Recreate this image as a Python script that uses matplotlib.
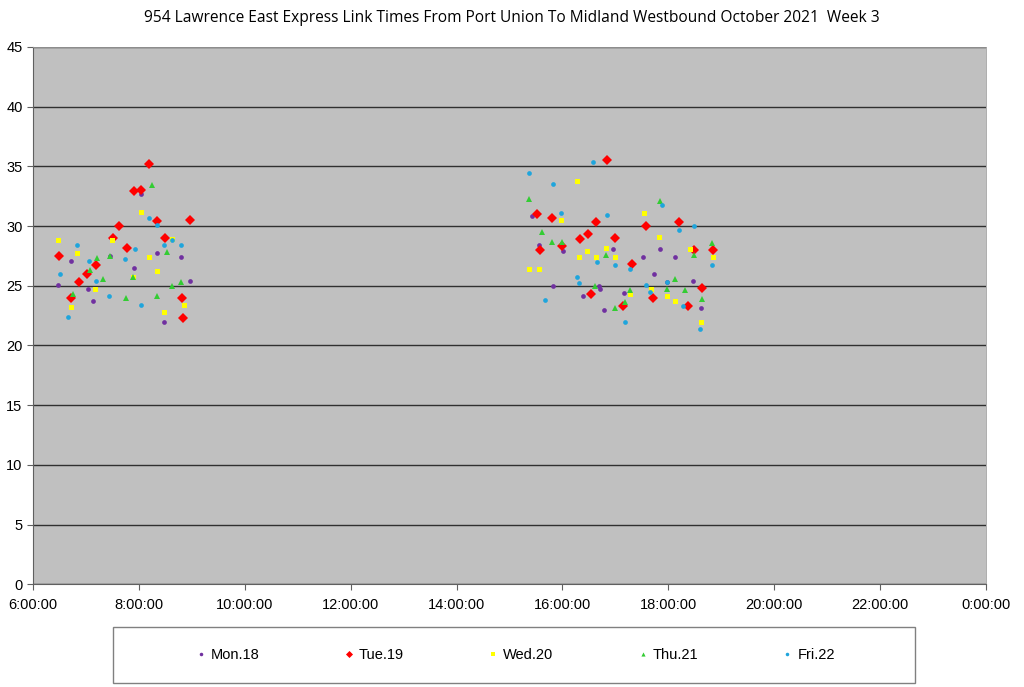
import matplotlib.pyplot as plt
from matplotlib.patches import Rectangle
from matplotlib.ticker import MultipleLocator, FuncFormatter

# link times (minutes) by time of day
mon_t = ["8:02", "8:20", "8:48", "6:43", "7:54", "8:58", "6:28", "7:02", "7:08", "8:28", "7:27",
         "15:25", "15:34", "16:01", "16:57", "15:49", "16:23", "16:43", "16:41", "16:47", "17:10",
         "17:50", "17:31", "18:08", "17:44", "18:28", "17:59", "18:37"]
mon_v = [32.7, 27.7, 27.4, 27.1, 26.5, 25.4, 25.1, 24.7, 23.7, 22.0, 27.5,
         30.8, 28.4, 27.9, 28.1, 25.0, 24.1, 24.7, 25.0, 23.0, 24.4,
         28.1, 27.4, 27.4, 26.0, 25.4, 25.3, 23.1]

tue_t = ["8:11", "7:55", "8:02", "8:21", "8:58", "7:37", "7:31", "8:30", "7:46", "6:30", "7:11",
         "7:01", "6:52", "6:43", "8:49", "8:50",
         "15:31", "15:35", "15:48", "15:59", "16:20", "16:29", "16:32", "16:38", "16:51", "16:59",
         "17:09", "17:19", "17:35", "17:43", "18:12", "18:22", "18:29", "18:38", "18:51"]
tue_v = [35.2, 32.9, 33.0, 30.4, 30.5, 30.0, 29.0, 29.0, 28.2, 27.5, 26.7,
         26.0, 25.3, 24.0, 24.0, 22.3,
         31.0, 28.0, 30.7, 28.3, 28.9, 29.3, 24.3, 30.3, 35.5, 29.0,
         23.3, 26.8, 30.0, 24.0, 30.3, 23.3, 28.0, 24.8, 28.0]

wed_t = ["8:02", "6:28", "7:29", "8:38", "6:50", "8:11", "8:20", "7:53", "7:10", "6:43", "8:51", "8:29",
         "16:16", "15:58", "16:28", "16:49", "16:19", "16:38", "17:00", "15:22", "15:34", "17:17",
         "17:32", "17:49", "18:24", "18:51", "17:40", "17:58", "18:08", "18:37"]
wed_v = [31.2, 28.8, 28.8, 28.9, 27.7, 27.4, 26.2, 25.7, 24.7, 23.2, 23.4, 22.8,
         33.8, 30.5, 27.9, 28.2, 27.4, 27.4, 27.4, 26.4, 26.4, 24.3,
         31.1, 29.1, 28.1, 27.4, 24.7, 24.1, 23.7, 22.0]

thu_t = ["8:15", "8:32", "7:12", "7:05", "7:19", "7:53", "8:38", "8:48", "6:45", "7:45", "8:21", "7:27",
         "15:22", "15:37", "15:48", "15:59", "16:49", "16:37", "17:17", "16:59", "17:11",
         "17:50", "18:29", "18:50", "18:08", "18:19", "18:38", "17:59"]
thu_v = [33.4, 27.8, 27.3, 26.3, 25.6, 25.7, 25.0, 25.3, 24.3, 24.0, 24.1, 27.5,
         32.3, 29.5, 28.7, 28.7, 27.6, 25.0, 24.6, 23.1, 23.6,
         32.1, 27.6, 28.6, 25.6, 24.6, 23.9, 24.7]

fri_t = ["8:11", "8:20", "6:50", "7:56", "8:29", "8:38", "8:48", "7:44", "7:03", "6:31", "7:11",
         "7:26", "8:02", "6:40",
         "16:35", "15:22", "15:49", "16:50", "15:58", "16:39", "16:59", "17:17", "16:16", "16:19",
         "15:40", "17:11", "17:53", "18:12", "18:29", "18:50", "17:35", "17:39", "17:59", "18:17", "18:36"]
fri_v = [30.7, 30.1, 28.4, 28.1, 28.4, 28.8, 28.4, 27.2, 27.1, 26.0, 25.4,
         24.1, 23.4, 22.4,
         35.4, 34.4, 33.5, 30.9, 31.1, 27.0, 26.7, 26.4, 25.7, 25.2,
         23.8, 22.0, 31.8, 29.7, 30.0, 26.7, 25.1, 24.5, 25.3, 23.3, 21.4]

labels = ["Mon.18", "Tue.19", "Wed.20", "Thu.21", "Fri.22"]
colors = ["#7030A0", "#FF0000", "#FFFF00", "#33CC33", "#1FA5DC"]
markers = ["o", "D", "s", "^", "o"]
sizes = [3.4, 4.8, 3.6, 4.0, 3.4]


def hours(ts):
    return [int(t.split(":")[0]) + int(t.split(":")[1]) / 60 for t in ts]


series = [(mon_t, mon_v), (tue_t, tue_v), (wed_t, wed_v), (thu_t, thu_v), (fri_t, fri_v)]

plt.rcParams['font.family'] = ['Liberation Sans', 'DejaVu Sans']
fig = plt.figure(figsize=(10.24, 6.87), dpi=100)
ax = fig.add_axes([0.0322, 0.1496, 0.9307, 0.7821])
ax.set_facecolor("#C0C0C0")

for (t, v), lab, c, m, s in zip(series, labels, colors, markers, sizes):
    ax.plot(hours(t), v, linestyle="none", marker=m, color=c, markersize=s,
            markeredgewidth=0, label=lab, zorder=3)

ax.set_xlim(6, 24)
ax.set_ylim(0, 45)
ax.xaxis.set_major_locator(MultipleLocator(2))
ax.yaxis.set_major_locator(MultipleLocator(5))
ax.xaxis.set_major_formatter(FuncFormatter(lambda x, p: "%d:00:00" % (int(round(x)) % 24)))
ax.grid(axis="y", color="#303030", linewidth=1.0, zorder=1)
ax.tick_params(axis="both", labelsize=10.5, length=4, color="#606060")
ax.tick_params(axis="x", pad=6)
for side in ["left", "bottom"]:
    ax.spines[side].set_color("#606060")
for side in ["top", "right"]:
    ax.spines[side].set_color("#A0A0A0")
    ax.spines[side].set_linewidth(0.6)

fig.suptitle("954 Lawrence East Express Link Times From Port Union To Midland Westbound October 2021  Week 3",
             y=0.985, fontsize=11.2, family="Open Sans")

# legend box
fig.patches.append(Rectangle((113 / 1024, 4 / 687), 802 / 1024, 56 / 687, transform=fig.transFigure,
                             facecolor="white", edgecolor="#808080", linewidth=1.0, zorder=0))
leg = fig.legend(loc="center", bbox_to_anchor=(0.503, 0.047), ncol=5, fontsize=10.5, frameon=False,
                 handlelength=0.8, handletextpad=0.3, columnspacing=5.7, markerscale=0.75)

fig.savefig("out.png", dpi=100)
